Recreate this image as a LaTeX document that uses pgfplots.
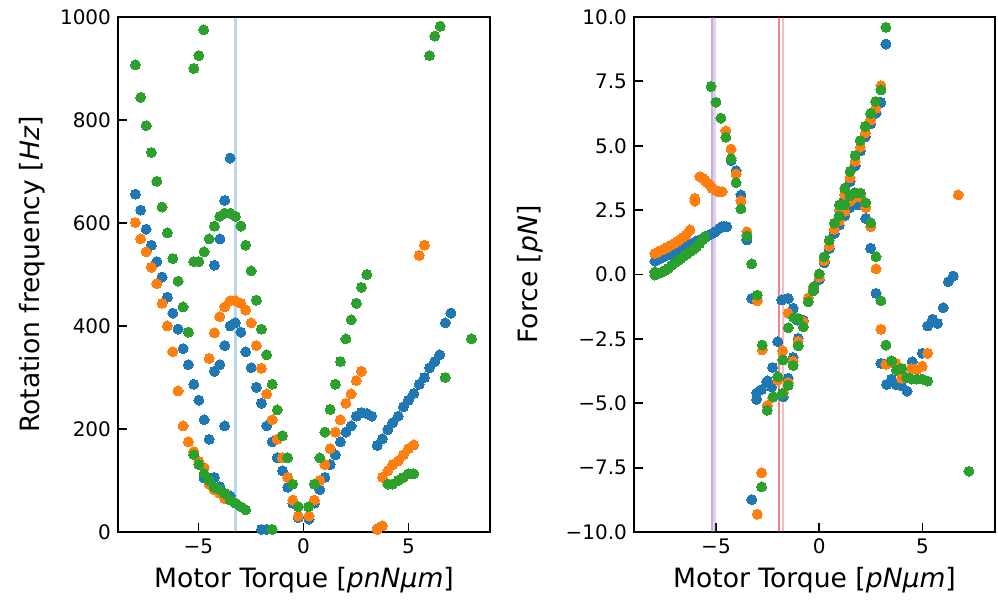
\documentclass[border=0pt]{standalone}
\usepackage{fontspec}
\setmainfont{DejaVu Sans}
\usepackage{pgfplots}
\pgfplotsset{compat=1.18}
\definecolor{tabblue}{HTML}{1F77B4}
\definecolor{taborange}{HTML}{FF7F0E}
\definecolor{tabgreen}{HTML}{2CA02C}
\definecolor{tabred}{HTML}{D62728}
\definecolor{tabpurple}{HTML}{9467BD}
\pgfplotsset{
  myaxis/.style={
    scale only axis,
    height=257.5pt,
    tick align=inside,
    tick pos=left,
    major tick length=4.5pt,
    every tick/.style={black, line width=0.9pt},
    axis line style={line width=1.2pt},
    tick label style={font=\fontsize{10}{12}\selectfont},
    label style={font=\fontsize{13.3}{16}\selectfont},
    xlabel style={at={(axis description cs:0.5,-0.093)}, anchor=center},
    /pgf/number format/assume math mode=true,
  },
  pB/.style={only marks, color=tabblue, mark=*, mark size=2.5pt, mark options={draw=tabblue, fill=tabblue, line width=0pt}},
  pO/.style={only marks, color=taborange, mark=*, mark size=2.5pt, mark options={draw=taborange, fill=taborange, line width=0pt}},
  pG/.style={only marks, color=tabgreen, mark=*, mark size=2.5pt, mark options={draw=tabgreen, fill=tabgreen, line width=0pt}},
}
\begin{document}
\begin{tikzpicture}
\useasboundingbox (-59pt,-35.5pt) rectangle (440pt,266pt);
% ---------------- Left panel ----------------
\begin{axis}[myaxis,
  at={(0pt,0pt)}, anchor=south west,
  width=186pt,
  xmin=-8.83, xmax=8.88, ymin=0, ymax=1000,
  xtick={-5,0,5}, xticklabels={−5,0,5},
  ytick={0,200,400,600,800,1000}, yticklabels={0,200,400,600,800,1000},
  xlabel={Motor Torque [\textit{pnNμm}]},
  ylabel={Rotation frequency [\textit{Hz}]},
  ylabel style={at={(axis description cs:-0.231,0.5)}, anchor=center},
]
\addplot[pB] coordinates {
(-8.0,656)(-7.75,625)(-7.49,588)(-7.24,557)(-6.98,525)(-6.73,495)(-6.48,456)(-6.22,425)
(-5.97,394)(-5.73,356)(-5.48,325)(-5.22,287)(-4.98,256)(-4.73,218)(-4.49,180)(-3.75,206)
(-4.24,518)(-3.98,569)(-3.75,644)(-3.49,726)
(-4.24,312)(-3.98,325)(-3.75,362)(-3.49,400)(-3.24,406)(-2.98,388)(-2.75,350)(-2.49,319)
(-2.24,281)(-2.0,250)(-1.75,206)(-1.49,175)(-1.25,144)(-1.0,119)(-0.75,87)(-0.51,56)(-0.25,28)
(-4.24,106)(-3.98,88)(-3.49,70)(-4.49,95)(-4.73,105)
(-2.0,5)(-1.75,5)
(0.27,25)(0.52,56)(0.78,82)(1.02,106)(1.27,131)(1.52,150)(1.76,175)(2.02,194)(2.27,206)
(2.52,225)(2.76,232)(3.02,230)(3.25,225)(3.51,168)(3.76,181)(4.02,199)(4.25,212)(4.51,225)
(4.76,243)(5.0,256)(5.25,269)(5.51,287)(5.76,300)(6.0,319)(6.25,331)(6.49,344)(6.75,406)(7.02,425)
(3.51,6)
};
\addplot[pO] coordinates {
(-8.0,601)(-7.75,569)(-7.49,544)(-7.24,514)(-6.98,482)(-6.73,444)(-6.48,400)(-6.22,350)
(-5.97,274)(-5.73,206)(-5.48,175)(-5.22,156)(-4.98,137)(-4.73,125)(-4.49,93)(-4.24,82)(-3.98,75)(-3.75,65)
(-4.49,337)(-4.24,387)(-3.98,418)(-3.75,437)(-3.49,449)(-3.24,449)(-2.98,444)(-2.75,431)
(-2.49,406)(-2.24,362)(-2.0,318)(-1.75,268)(-1.49,218)(-1.25,180)(-1.0,144)(-0.75,106)(-0.51,62)(-0.25,31)
(0.27,31)(0.52,62)(0.78,100)(1.02,131)(1.27,162)(1.52,194)(1.76,218)(2.02,250)(2.27,268)
(2.52,294)(2.76,312)
(3.51,5)(3.76,12)
(3.76,106)(4.02,119)(4.25,131)(4.51,138)(4.76,150)(5.0,162)(5.25,169)
(5.51,537)(5.76,557)
};
\addplot[pG] coordinates {
(-8.0,907)(-7.75,844)(-7.49,789)(-7.24,737)(-6.98,681)(-6.73,631)(-6.48,581)(-6.22,531)
(-5.97,487)(-5.73,437)(-5.48,388)
(-5.22,525)(-4.98,525)(-4.73,544)(-4.49,569)(-4.24,594)(-3.98,613)(-3.75,619)(-3.49,619)
(-3.24,613)(-2.98,594)(-2.75,557)(-2.49,507)(-2.24,450)(-2.0,394)(-1.75,344)(-1.49,287)
(-1.25,237)(-1.0,187)(-0.75,144)(-0.51,93)(-0.25,49)
(-5.22,150)(-4.98,131)(-4.73,113)(-4.49,100)(-4.24,87)(-3.98,82)(-3.75,75)(-3.49,62)
(-3.24,56)(-2.98,49)(-2.75,43)
(-5.22,900)(-4.98,925)(-4.75,975)
(-1.49,5)
(0.24,49)(0.52,93)(0.78,144)(1.02,194)(1.27,238)(1.52,287)(1.76,331)(2.02,375)(2.27,412)
(2.52,444)(2.76,475)(3.02,500)
(4.02,93)(4.25,93)(4.51,100)(4.76,106)(5.0,113)(5.25,113)
(6.0,925)(6.25,963)(6.51,982)(6.75,300)(8.0,375)
};
\addplot[draw=tabblue, opacity=0.3, line width=1.1pt, forget plot] coordinates {(-3.24,0)(-3.24,1000)};
\end{axis}
% ---------------- Right panel ----------------
\begin{axis}[myaxis,
  at={(258pt,0pt)}, anchor=south west,
  width=180.5pt,
  xmin=-8.97, xmax=8.51, ymin=-10, ymax=10,
  xtick={-5,0,5}, xticklabels={−5,0,5},
  ytick={-10,-7.5,-5,-2.5,0,2.5,5,7.5,10},
  yticklabels={−10.0,−7.5,−5.0,−2.5,0.0,2.5,5.0,7.5,10.0},
  xlabel={Motor Torque [\textit{pNμm}]},
  ylabel={Force [\textit{pN}]},
  ylabel style={at={(axis description cs:-0.288,0.5)}, anchor=center},
]
\addplot[pB] coordinates {
(-7.96,0.52)(-7.8,0.58)(-7.65,0.64)(-7.5,0.7)(-7.35,0.75)(-7.2,0.81)(-7.05,0.87)(-6.9,0.92)
(-6.75,0.98)(-6.6,1.04)(-6.45,1.09)(-6.3,1.15)(-6.15,1.21)(-6.0,1.27)(-5.85,1.32)(-5.7,1.38)
(-5.55,1.44)(-5.4,1.5)(-5.21,1.58)(-5.1,1.62)(-5.0,1.68)(-4.85,1.78)(-4.73,1.86)(-4.6,1.87)(-4.48,1.86)
(-4.27,4.42)(-4.03,4.03)(-3.79,3.09)(-3.5,1.34)
(-3.27,-0.93)(-3.27,-8.74)(-3.03,-4.85)(-3.03,-4.6)(-2.8,-4.47)(-2.55,-4.17)(-2.5,-4.13)
(-2.3,-4.37)(-2.26,-3.61)(-2.01,-2.61)(-1.82,-0.99)(-1.74,-4.75)(-1.5,-0.93)(-1.5,-4.03)
(-1.26,-1.31)(-1.26,-3.22)(-1.02,-2.48)(-1.05,-1.77)(-0.77,-1.77)
(-0.26,-0.6)(0.0,-0.2)(0.24,0.45)(0.48,1.0)(0.73,1.6)(0.97,2.3)(1.24,2.95)(1.49,3.6)
(1.74,4.22)(1.99,4.8)(2.23,5.35)(2.49,5.85)(2.75,6.27)(2.99,6.68)(3.23,8.95)
(0.97,1.92)(1.24,2.28)(1.49,2.6)(1.73,2.85)(1.89,2.7)(2.25,2.18)(2.49,1.02)(2.75,-0.73)
(2.99,-3.45)(3.26,-4.27)(3.5,-4.07)(3.74,-4.29)(3.99,-4.33)(4.25,-4.53)(4.5,-3.39)(4.99,-3.06)
(5.25,-2.0)(5.49,-1.74)(5.73,-1.9)(6.0,-1.29)(6.25,-0.28)(6.49,-0.06)
};
\addplot[pO] coordinates {
(-7.96,0.82)(-7.8,0.88)(-7.65,0.94)(-7.5,1.0)(-7.35,1.06)(-7.2,1.13)(-7.05,1.2)(-6.9,1.27)
(-6.75,1.35)(-6.6,1.44)(-6.45,1.53)(-6.26,1.73)(-6.02,2.85)(-6.02,2.95)(-5.78,3.8)(-5.65,3.74)
(-5.52,3.65)(-5.4,3.55)(-5.3,3.48)(-5.2,3.35)(-5.05,3.28)(-4.92,3.22)(-4.81,3.22)(-4.7,3.22)
(-4.52,5.58)(-4.27,4.87)(-4.03,3.9)(-3.79,2.86)(-3.5,1.66)
(-3.0,-1.02)(-2.76,-2.93)(-2.79,-7.7)(-3.0,-9.31)(-2.52,-5.1)(-2.26,-4.78)(-2.01,-4.1)
(-1.77,-2.97)(-1.74,-4.6)(-1.5,-1.5)(-1.5,-4.2)(-1.26,-3.37)(-1.02,-2.6)(-0.77,-1.83)
(-0.53,-0.91)(-0.29,-0.54)
(-0.26,-0.55)(0.0,-0.1)(0.24,0.54)(0.48,1.1)(0.73,1.75)(0.97,2.5)(1.24,3.1)(1.49,3.75)
(1.74,4.4)(1.99,4.95)(2.23,5.5)(2.49,6.0)(2.73,6.45)(2.99,7.33)
(0.97,2.08)(1.24,2.45)(1.49,2.85)(1.73,3.0)(2.0,3.0)(2.25,2.6)(2.49,1.86)(2.75,0.22)(2.99,-2.13)
(3.23,-3.49)(3.6,-3.45)(3.71,-3.45)(3.99,-4.03)(4.47,-3.65)(4.72,-3.69)(4.99,-3.56)(5.25,-3.06)
(6.73,3.09)
};
\addplot[pG] coordinates {
(-7.96,-0.02)(-7.96,0.1)(-7.85,0.02)(-7.75,0.05)(-7.6,0.1)(-7.45,0.17)(-7.3,0.24)(-7.15,0.36)
(-7.0,0.45)(-6.85,0.53)(-6.7,0.62)(-6.55,0.72)(-6.4,0.8)(-6.25,0.89)(-6.1,0.98)(-5.95,1.07)
(-5.8,1.2)(-5.65,1.35)(-5.54,1.47)
(-5.24,7.3)(-5.0,6.69)(-4.76,6.07)(-4.52,5.33)(-4.27,4.5)(-4.03,3.57)(-3.79,2.55)(-3.5,1.5)(-3.27,0.41)
(-3.0,-0.8)(-2.76,-2.74)(-2.79,-8.25)(-3.0,-10.06)(-2.52,-5.27)(-2.23,-4.75)(-2.01,-3.97)
(-1.76,-3.32)(-1.79,-4.62)(-1.5,-2.07)(-1.5,-4.3)(-1.23,-1.68)(-1.26,-3.53)(-1.02,-2.77)
(-1.02,-1.70)(-0.77,-2.03)(-0.53,-1.06)(-0.29,-0.64)
(-0.26,-0.47)(0.0,0.02)(0.24,0.69)(0.48,1.33)(0.73,1.99)(0.97,2.7)(1.24,3.35)(1.49,4.0)
(1.74,4.62)(1.99,5.2)(2.23,5.75)(2.49,6.26)(2.73,6.72)(2.99,7.17)(3.23,9.6)
(0.97,2.27)(1.24,2.7)(1.49,3.05)(1.73,3.18)(2.0,3.16)(2.25,2.79)(2.49,2.01)(2.75,0.69)
(2.99,-1.02)(3.23,-2.74)
(3.5,-3.35)(3.74,-3.71)(3.99,-3.65)(4.23,-4.0)(4.47,-4.06)(4.72,-4.06)(4.99,-4.06)(5.25,-4.14)
(7.25,-7.64)
};
\addplot[draw=tabpurple, opacity=0.55, line width=1.2pt, forget plot] coordinates {(-5.2,-10)(-5.2,10)};
\addplot[draw=tabpurple, opacity=0.3, line width=1.2pt, forget plot] coordinates {(-5.07,-10)(-5.07,10)};
\addplot[draw=tabred, opacity=0.55, line width=1.2pt, forget plot] coordinates {(-1.94,-10)(-1.94,10)};
\addplot[draw=tabred, opacity=0.3, line width=1.2pt, forget plot] coordinates {(-1.76,-10)(-1.76,10)};
\end{axis}
\end{tikzpicture}
\end{document}
